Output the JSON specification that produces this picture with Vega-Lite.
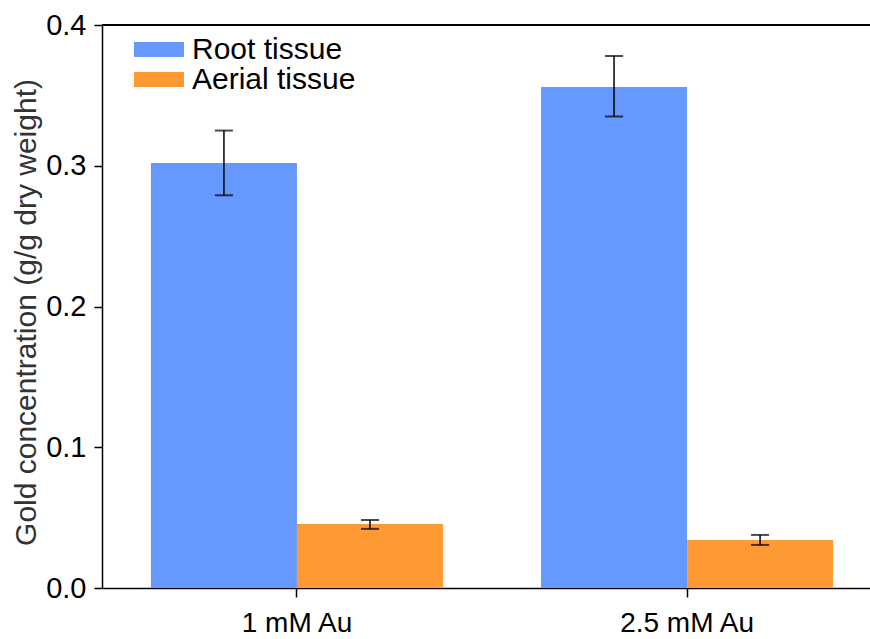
{
  "$schema": "https://vega.github.io/schema/vega-lite/v6.json",
  "autosize": {"type": "none"},
  "padding": {"left": 102, "top": 25, "right": 0, "bottom": 51},
  "width": 768,
  "height": 563,
  "background": "white",
  "config": {
    "view": {"stroke": null},
    "font": "Liberation Sans",
    "axis": {
      "labelFont": "Liberation Sans",
      "titleFont": "Liberation Sans",
      "domainColor": "black",
      "domainWidth": 1.5,
      "tickColor": "black",
      "tickWidth": 1.5,
      "labelColor": "black",
      "grid": false
    }
  },
  "data": {
    "values": [
      {"conc": "1 mM Au", "tissue": "Root tissue", "value": 0.302, "lo": 0.279, "hi": 0.325},
      {"conc": "1 mM Au", "tissue": "Aerial tissue", "value": 0.0455, "lo": 0.042, "hi": 0.0483},
      {"conc": "2.5 mM Au", "tissue": "Root tissue", "value": 0.356, "lo": 0.335, "hi": 0.378},
      {"conc": "2.5 mM Au", "tissue": "Aerial tissue", "value": 0.0341, "lo": 0.0306, "hi": 0.0377}
    ]
  },
  "layer": [
    {
      "mark": {"type": "bar"},
      "encoding": {
        "x": {
          "field": "conc",
          "type": "nominal",
          "sort": ["1 mM Au", "2.5 mM Au"],
          "scale": {"paddingInner": 0.2513, "paddingOuter": 0.11, "align": 0.57},
          "axis": {"title": null, "labelAngle": 0, "labelFontSize": 28, "tickSize": 9, "labelPadding": 12}
        },
        "xOffset": {
          "field": "tissue",
          "type": "nominal",
          "sort": ["Root tissue", "Aerial tissue"],
          "scale": {"paddingInner": 0, "paddingOuter": 0}
        },
        "y": {
          "field": "value",
          "type": "quantitative",
          "scale": {"domain": [0, 0.4], "nice": false},
          "axis": {
            "title": "Gold concentration (g/g dry weight)",
            "titleFontSize": 30,
            "titleFontWeight": "normal",
            "titleColor": "#333333",
            "titleX": -76,
            "titleY": 287,
            "titleBaseline": "middle",
            "titleAngle": -90,
            "values": [0, 0.1, 0.2, 0.3, 0.4],
            "format": ".1f",
            "labelFontSize": 29,
            "tickSize": 8,
            "labelPadding": 8
          }
        },
        "color": {
          "field": "tissue",
          "type": "nominal",
          "sort": ["Root tissue", "Aerial tissue"],
          "scale": {"domain": ["Root tissue", "Aerial tissue"], "range": ["#6699ff", "#ff9933"]},
          "legend": {
            "title": null,
            "orient": "none",
            "legendX": 42,
            "legendY": 9.5,
            "padding": 0,
            "symbolType": "M-3.333,-1H3.333V1H-3.333Z",
            "symbolSize": 225,
            "symbolStrokeWidth": 0,
            "labelFontSize": 30,
            "labelColor": "black",
            "labelOffset": 18,
            "labelLimit": 400,
            "rowPadding": 0,
            "labelFont": "Liberation Sans"
          }
        }
      }
    },
    {
      "mark": {"type": "rule", "color": "black", "strokeWidth": 1.5},
      "encoding": {
        "x": {"field": "conc", "type": "nominal", "sort": ["1 mM Au", "2.5 mM Au"]},
        "xOffset": {"field": "tissue", "type": "nominal", "sort": ["Root tissue", "Aerial tissue"]},
        "y": {"field": "lo", "type": "quantitative"},
        "y2": {"field": "hi"}
      }
    },
    {
      "mark": {"type": "tick", "color": "black", "size": 18, "thickness": 2},
      "encoding": {
        "x": {"field": "conc", "type": "nominal", "sort": ["1 mM Au", "2.5 mM Au"]},
        "xOffset": {"field": "tissue", "type": "nominal", "sort": ["Root tissue", "Aerial tissue"]},
        "y": {"field": "lo", "type": "quantitative"}
      }
    },
    {
      "mark": {"type": "tick", "color": "black", "size": 18, "thickness": 2},
      "encoding": {
        "x": {"field": "conc", "type": "nominal", "sort": ["1 mM Au", "2.5 mM Au"]},
        "xOffset": {"field": "tissue", "type": "nominal", "sort": ["Root tissue", "Aerial tissue"]},
        "y": {"field": "hi", "type": "quantitative"}
      }
    },
    {
      "mark": {"type": "rule", "color": "black", "strokeWidth": 1.5},
      "encoding": {"y": {"datum": 0.4, "type": "quantitative"}}
    }
  ]
}
